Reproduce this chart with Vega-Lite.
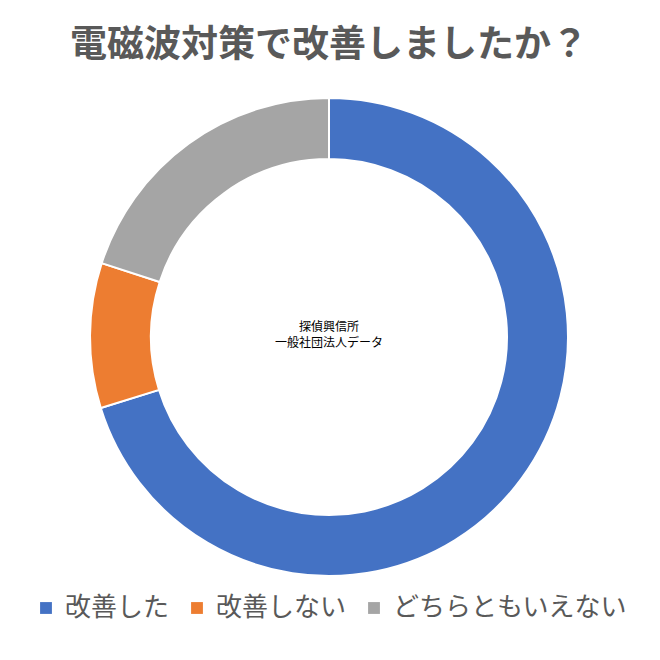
{
  "$schema": "https://vega.github.io/schema/vega-lite/v6.json",
  "width": 658,
  "height": 660,
  "autosize": "none",
  "padding": {"left": 0, "top": 7, "right": 0, "bottom": 0},
  "background": "white",
  "title": {
    "text": "電磁波対策で改善しましたか？",
    "font": "Noto Sans CJK JP",
    "fontSize": 37,
    "fontWeight": "bold",
    "color": "#595959",
    "anchor": "middle",
    "baseline": "alphabetic",
    "offset": -87
  },
  "config": {
    "view": {"stroke": null},
    "font": "Noto Sans CJK JP"
  },
  "layer": [
    {
      "data": {
        "values": [
          {"answer": "改善した", "pct": 70.2, "order": 1},
          {"answer": "改善しない", "pct": 9.8, "order": 2},
          {"answer": "どちらともいえない", "pct": 20.0, "order": 3}
        ]
      },
      "mark": {"type": "arc", "outerRadius": 239, "innerRadius": 178, "stroke": "white", "strokeWidth": 2},
      "encoding": {
        "theta": {"field": "pct", "type": "quantitative", "stack": true},
        "order": {"field": "order", "type": "quantitative"},
        "color": {
          "field": "answer",
          "type": "nominal",
          "sort": ["改善した", "改善しない", "どちらともいえない"],
          "scale": {
            "domain": ["改善した", "改善しない", "どちらともいえない"],
            "range": ["#4472C4", "#ED7D31", "#A5A5A5"]
          },
          "legend": {
            "title": null,
            "orient": "none",
            "direction": "horizontal",
            "legendX": 33,
            "legendY": 588,
            "symbolType": "square",
            "symbolSize": 140,
            "symbolStrokeWidth": 0,
            "labelFontSize": 26,
            "labelColor": "#595959",
            "labelFont": "Noto Sans CJK JP",
            "labelOffset": 6,
            "columnPadding": 14,
            "labelLimit": 400
          }
        }
      }
    },
    {
      "data": {"values": [{"note": "探偵興信所\n一般社団法人データ"}]},
      "mark": {"type": "text", "fontSize": 12, "color": "#000000", "lineBreak": "\n", "lineHeight": 16, "baseline": "middle", "dy": -10},
      "encoding": {
        "text": {"field": "note", "type": "nominal"}
      }
    }
  ]
}
